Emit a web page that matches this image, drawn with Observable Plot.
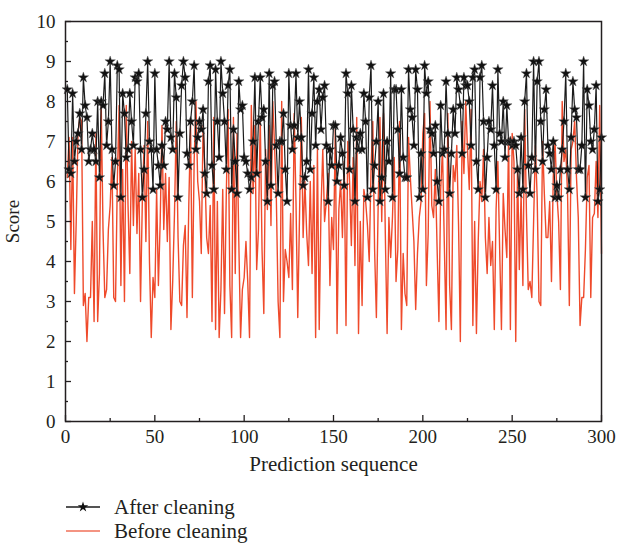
<!DOCTYPE html>
<html><head><meta charset="utf-8">
<script src="https://cdn.jsdelivr.net/npm/d3@7"></script>
<script src="https://cdn.jsdelivr.net/npm/@observablehq/plot@0.6"></script>
<style>
body{margin:0;background:#fff;}
#wrap{position:relative;width:617px;height:544px;overflow:hidden;font-family:"Liberation Serif",serif;color:#231f20;}
.leg{position:absolute;left:66px;font-size:21px;line-height:22px;display:flex;align-items:center;height:22px;}
.leg svg{margin-right:12px;}
</style></head><body><div id="wrap"></div>
<script>
const afterCleaning = [
8.3,6.3,6.2,8.2,6.5,7.0,7.2,7.7,6.8,8.6,7.9,7.6,6.5,6.8,7.2,6.8,6.5,8.0,6.1,8.0,
7.9,8.7,6.9,7.5,9.0,6.8,5.9,6.5,8.9,8.8,5.6,8.2,7.7,6.6,6.8,8.2,7.5,6.9,8.6,8.5,
8.7,6.8,5.6,6.3,7.7,9.0,7.0,6.8,5.8,8.7,6.8,6.4,5.9,6.9,6.4,7.5,7.3,9.0,7.1,6.8,
8.7,8.1,5.6,7.2,8.4,9.0,8.6,6.7,6.4,7.5,8.0,8.9,6.8,7.1,7.5,7.3,7.8,6.2,5.7,8.5,
8.9,6.4,5.8,8.8,7.5,6.6,9.0,8.2,7.5,6.3,8.4,8.8,5.8,7.3,6.5,5.7,8.5,7.8,7.9,6.6,
6.5,6.2,5.8,6.1,7.0,8.6,6.2,7.5,8.6,7.6,7.8,6.5,5.5,8.7,5.9,8.4,8.5,6.9,5.7,7.0,
7.0,7.7,6.3,5.5,8.7,7.4,6.8,7.4,8.7,7.1,8.0,7.1,5.9,6.1,6.5,8.8,6.3,7.7,8.6,6.9,
8.0,8.3,7.3,8.1,8.4,6.9,5.5,6.8,6.4,7.4,7.4,6.0,6.4,7.1,6.7,5.9,8.7,8.2,6.3,8.4,
7.3,5.5,7.1,6.8,7.2,6.8,8.2,7.5,5.6,8.1,8.9,5.8,6.4,7.0,8.0,5.5,6.1,8.2,5.8,7.0,
6.5,8.7,5.6,8.3,8.3,7.3,6.2,8.3,6.6,6.1,6.1,8.8,7.8,7.6,6.9,8.8,8.3,5.6,6.7,5.8,
8.9,8.2,8.5,7.3,7.2,6.7,7.4,6.0,5.5,7.9,6.7,6.8,8.5,7.2,5.7,6.7,7.8,7.2,8.6,8.3,
7.9,6.7,8.6,8.4,8.4,8.0,6.9,8.6,8.8,6.5,5.8,8.6,8.9,7.5,5.6,6.6,7.5,7.3,8.4,6.9,
5.8,8.8,7.2,7.0,8.0,6.6,7.9,7.0,7.0,6.9,7.0,6.9,6.3,5.7,7.1,5.8,8.0,8.7,6.4,5.7,
6.6,9.0,6.3,8.5,9.0,7.5,6.5,7.8,8.3,6.9,6.7,6.3,7.0,5.6,5.9,5.6,6.3,6.8,7.5,8.7,
6.3,5.8,7.1,8.5,7.8,7.6,6.3,6.3,6.9,9.0,5.6,8.3,7.9,7.0,6.8,7.3,8.4,5.5,5.8,7.1
];
const beforeCleaning = [
6.1,7.1,4.3,7.1,3.2,5.0,7.2,7.6,7.5,2.9,3.2,2.0,3.1,3.1,5.0,2.5,7.2,2.5,3.7,7.9,
4.8,3.1,3.3,4.8,5.4,6.6,3.1,3.0,6.0,7.9,3.4,6.3,3.0,7.9,5.4,3.7,7.0,4.9,6.8,4.7,
6.2,3.0,5.5,6.9,4.5,7.5,4.0,2.1,3.6,3.1,5.8,3.4,5.0,7.4,4.8,6.2,4.5,6.1,2.3,3.5,
5.2,7.5,4.6,3.0,2.9,4.4,4.9,2.6,5.4,7.4,3.1,6.5,8.0,6.0,5.5,4.2,7.4,6.3,4.6,4.2,
5.4,2.5,7.6,2.3,5.5,2.1,3.3,5.8,2.7,5.7,7.8,3.4,2.1,7.6,3.7,7.2,4.5,2.1,3.3,3.6,
4.5,3.5,2.1,7.9,5.7,7.4,3.8,4.8,7.6,4.3,2.7,6.8,5.3,7.4,4.9,8.0,6.9,5.6,3.0,2.1,
8.0,3.0,4.3,4.0,3.6,5.2,3.3,7.7,5.5,2.6,5.2,7.6,4.6,6.0,4.7,3.9,6.0,3.7,6.4,2.1,
6.8,2.3,5.3,6.8,5.0,5.5,6.2,3.4,5.1,4.3,7.3,2.2,5.3,6.0,4.6,6.5,2.4,7.0,6.0,4.4,
6.6,3.9,7.6,2.2,5.0,2.9,5.8,5.5,4.9,4.0,6.3,7.5,4.3,2.6,5.4,7.6,5.0,7.7,4.7,2.2,
5.1,4.1,5.1,6.6,3.5,4.3,7.5,2.3,4.2,3.2,2.9,7.1,6.1,5.3,4.5,2.8,4.2,5.1,5.5,7.2,
7.7,3.4,4.7,8.0,5.4,5.1,6.3,4.3,2.5,5.8,6.8,4.5,2.3,7.7,3.4,2.3,6.4,6.0,6.9,4.9,
2.0,7.5,6.2,8.0,6.8,5.8,7.8,2.4,5.0,2.2,4.5,6.0,5.5,6.8,4.6,3.7,5.1,3.9,4.5,2.3,
5.3,6.5,4.3,2.3,5.7,4.8,4.1,7.1,2.3,7.2,6.5,2.0,6.4,3.8,5.7,3.4,7.8,5.2,3.3,3.5,
3.1,5.0,6.9,5.6,3.0,2.9,7.0,5.7,4.6,4.6,5.5,3.5,6.1,7.0,5.7,5.0,3.3,8.0,6.5,6.8,
5.7,2.9,6.8,7.0,7.5,6.1,5.1,2.4,3.1,3.1,4.3,6.1,6.4,3.1,5.1,5.2,6.5,5.1,7.9,4.2
];
const sequence = afterCleaning.map((_, i) => i + 1);
const xTicks = [0, 50, 100, 150, 200, 250, 300];
const xMinorTicks = [25, 75, 125, 175, 225, 275];
const yTicks = [0, 1, 2, 3, 4, 5, 6, 7, 8, 9, 10];
const yMinorTicks = [0.5, 1.5, 2.5, 3.5, 4.5, 5.5, 6.5, 7.5, 8.5, 9.5];
const seriesNames = ["After cleaning", "Before cleaning"];
const xLabel = "Prediction sequence";
const yLabel = "Score";

const rows = sequence.map((x, i) => ({x, after: afterCleaning[i], before: beforeCleaning[i]}));
const ink = "#231f20";
const red = "#ef4a2b";
const black = "#1b1b1b";

const chart = Plot.plot({
  width: 617, height: 480,
  marginLeft: 65, marginRight: 16, marginTop: 21, marginBottom: 59,
  x: {domain: [0, 300]},
  y: {domain: [0, 10]},
  style: {fontFamily: "'Liberation Serif', serif", fontSize: "19px", color: ink, background: "#fff"},
  marks: [
    Plot.lineY(rows, {x: "x", y: "before", stroke: red, strokeWidth: 1.4}),
    Plot.lineY(rows, {x: "x", y: "after", stroke: black, strokeWidth: 1.2}),
    Plot.dot(rows, {x: "x", y: "after", symbol: "star", r: 3.3, fill: "#111", stroke: "#555", strokeWidth: 0.4}),
    Plot.frame({stroke: ink, strokeWidth: 1.5}),
    Plot.axisX(xTicks, {tickSize: -6, tickPadding: 14, stroke: ink, strokeWidth: 1.3, label: null}),
    Plot.axisX(xMinorTicks, {tickSize: -3, tickFormat: () => "", stroke: ink, strokeWidth: 1.3, label: null}),
    Plot.text([xLabel], {frameAnchor: "bottom", lineAnchor: "top", dy: 35, fontSize: 21, fill: ink}),
    Plot.axisY(yTicks, {tickSize: -6, tickPadding: 16, stroke: ink, strokeWidth: 1.3, label: yLabel, labelAnchor: "center", labelOffset: 60, labelArrow: "none"}),
    Plot.axisY(yMinorTicks, {tickSize: -3, tickFormat: () => "", stroke: ink, strokeWidth: 1.3, label: null})
  ]
});
const wrap = document.getElementById("wrap");
wrap.appendChild(chart);

const starPath = d3.symbol(d3.symbolStar, 34)();
function legendItem(name, color, withStar, top) {
  const div = document.createElement("div");
  div.className = "leg";
  div.style.top = top + "px";
  const svg = d3.create("svg").attr("width", 36).attr("height", 22);
  svg.append("line").attr("x1", 0).attr("x2", 34).attr("y1", 11).attr("y2", 11)
    .attr("stroke", color).attr("stroke-width", 1.4);
  if (withStar) svg.append("path").attr("d", starPath).attr("transform", "translate(17,11)").attr("fill", "#111");
  div.appendChild(svg.node());
  div.appendChild(document.createTextNode(name));
  wrap.appendChild(div);
}
legendItem(seriesNames[0], black, true, 496);
legendItem(seriesNames[1], "#f07058", false, 520);
</script></body></html>
